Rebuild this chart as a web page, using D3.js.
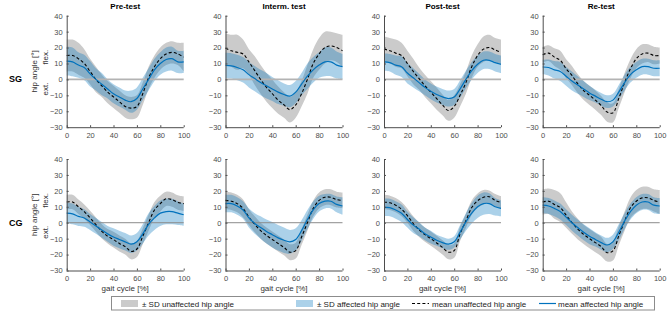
<!DOCTYPE html>
<html>
<head>
<meta charset="utf-8">
<title>Hip angle over gait cycle</title>
<style>
  body { margin: 0; background: #fff; }
  svg { font-family: 'Liberation Sans', Arial, sans-serif; }
  .tick text { font-size: 7.5px; fill: #4d4d4d; }
  .tick line { stroke: #4d4d4d; }
  .domain { stroke: #4d4d4d; }
  .ttl { font-size: 8px; font-weight: bold; fill: #000; }
  .grp { font-size: 9px; font-weight: bold; fill: #000; }
  .lab { font-size: 8px; fill: #333; }
  .leg { font-size: 8px; fill: #222; }
</style>
</head>
<body>
<svg width="669" height="313"></svg>
<script src="https://d3js.org/d3.v7.min.js"></script>
<script>

// gait cycle sample points (%)
let pct = [0,5,10,15,20,25,30,35,40,45,50,55,60,65,70,75,80,85,90,95,100];

let groups = ["SG", "CG"];
let sessions = ["Pre-test", "Interm. test", "Post-test", "Re-test"];
let yTicks = [-30,-20,-10,0,10,20,30,40];
let xTicks = [0,20,40,60,80,100];

// ---- SG ----
let sgPreUnMean = [15,15,13,10,5,0,-4,-8,-11,-14,-17,-18,-17,-9,1,8,13,16,17,16,14];
let sgPreUnSd   = [10,10,10,9,8,8,7,7,7,7,7,7,7,7,7,7,7,7,7,7,9];
let sgPreAfMean = [11.5,11,9,7.5,3.5,0,-3,-6,-9,-11,-13,-14,-12,-6,0,6,10,12.5,13,11,11];
let sgPreAfSd   = [9,9,8,8,8,7,7,6,6,6,6,7,7,7,7,7,7,7.5,7.5,7,7];

let sgIntUnMean = [19.5,18,17,16,11,5.5,0,-5,-9,-13,-16,-19,-16,-9,0,10,16,20,21,20,18];
let sgIntUnSd   = [9.5,10,11,9,8,9,9,9,9,8.5,8,8,8,8,9,9,10,10,9,9,10];
let sgIntAfMean = [8.8,8.5,7.5,6,3,0.5,-2,-4,-6,-8,-9.5,-10.5,-8,-3,2,6,9,11,11,9,8];
let sgIntAfSd   = [8,8,8,8,8,8,8,8,7.5,7.5,7,7,7,7,8,8,8,9,9,8.5,8];

let sgPostUnMean = [19,18,16.5,15,10,5,0.5,-4,-8,-12,-16,-19.5,-17,-10,-2,8,15,19,20,18.5,17];
let sgPostUnSd   = [8,8,8.5,8,8,8,7,7,7,7,6.5,6.5,7,7,7,7,7,8,8,7.5,8];
let sgPostAfMean = [11,10.5,9,8,4,1,-2,-5,-7.5,-9.5,-11,-12,-11,-6,0,5.5,9.5,12,12,10.5,9.5];
let sgPostAfSd   = [5.5,5.5,6,6.5,6.5,6,5.5,5,5,5,5,5,5,5.5,5.5,5.5,5.5,5.5,5.5,5.5,5.5];

let sgReUnMean = [15.5,16.5,14,12,6.7,2.5,-2.7,-7,-10,-13,-16.4,-20.5,-21,-12,-2,6.7,13,16,16.5,15,15];
let sgReUnSd   = [5,5,5.5,6,6,6,6,6,6,6,6,6,6,6,6,6,6,6,5.5,5.5,5];
let sgReAfMean = [7.8,7.5,6,5,2,-1,-3.5,-6,-8.5,-10.5,-12.5,-14,-13,-8,-2,3,6,8,8,7,7];
let sgReAfSd   = [4.5,5,5.5,6,6,6,5.5,5,4.5,4,4,4,4,4.5,5,5,5,5,5,5,5];

// ---- CG ----
let cgPreUnMean = [13,13,10,7,3,-1.2,-5.4,-8.5,-10.6,-13,-15,-18,-16.5,-8.5,0,8,12,15,14.5,12.7,12];
let cgPreUnSd   = [4.5,4.5,4.5,4.5,4.5,4.5,4.5,4.5,5,5,5,5,5,5,5,5,5,4.5,4.5,4.5,4.5];
let cgPreAfMean = [6,5.5,4,3,0.5,-2,-4.5,-7,-9,-10.5,-12,-13.5,-12,-7,-1,3,6,7,7,6,5];
let cgPreAfSd   = [6.5,6.5,6,5.5,5,5,5,5,5.5,5.5,5.5,5.5,5.5,6,7,7.5,8,8,8,7.5,7];

let cgIntUnMean = [14,13.5,12,9,3.5,-1,-5,-8,-10.5,-13,-15.5,-18.5,-17.5,-9,0,9,14,16,16,14.5,14];
let cgIntUnSd   = [5.5,5.5,5.5,5.5,5,5,5,5,5,5,5,5,5,5,5,5,5,5,5,5,5];
let cgIntAfMean = [12,12,10.5,8,3,-0.5,-3,-5.5,-7.5,-9.5,-11,-12,-10.5,-5,2,8,12,13.5,13.5,11.5,10.5];
let cgIntAfSd   = [5.5,5.5,5.5,5.5,6,6.5,7,7.5,8,8,8,7.5,7,6.5,6,5.5,5,4.5,4.5,5,5.5];

let cgPostUnMean = [13,12.5,11,8.5,4.5,-0.5,-4.5,-7.5,-10,-12.7,-15.5,-18.5,-17.5,-7,1.2,9.5,13.8,16,16.3,14,12.7];
let cgPostUnSd   = [4.5,4.5,4.5,4.5,4.5,4.5,4.5,4.5,4.5,4.5,4.5,4.5,4.5,4.5,4.5,4.5,4.5,4.5,4,4,4];
let cgPostAfMean = [9.6,9.5,8,6,2,-1.5,-4,-7,-9,-11,-12.5,-13.5,-12,-6,0.5,6,10,12,12,10,9];
let cgPostAfSd   = [5.5,5.5,5.5,5.5,5,5,4.5,4,4,3.5,3.5,3.5,3.5,4.5,5.5,6.5,7,7,6.5,5.5,5];

let cgReUnMean = [13,13.5,11.5,9.5,4.8,0,-4,-7.3,-10,-12.5,-15,-18.8,-17.7,-8.3,1,9.4,13.5,15.6,15.6,14,13];
let cgReUnSd   = [8,8,9,9,8,7,6.5,6,6,6,6,5.5,6,6,6,6.5,7,7,7,7,7.5];
let cgReAfMean = [11,10.5,9,7,3.5,0,-3,-6,-8.5,-10.5,-12.5,-14,-12,-6,1,7,11,13,13,11,10.5];
let cgReAfSd   = [5,5,5,5,5,5,5,5,5,4.5,4.5,4.5,4.5,5,5,5,5,5,5,5,5];

let panels = [
  [[sgPreUnMean, sgPreUnSd, sgPreAfMean, sgPreAfSd],
   [sgIntUnMean, sgIntUnSd, sgIntAfMean, sgIntAfSd],
   [sgPostUnMean, sgPostUnSd, sgPostAfMean, sgPostAfSd],
   [sgReUnMean, sgReUnSd, sgReAfMean, sgReAfSd]],
  [[cgPreUnMean, cgPreUnSd, cgPreAfMean, cgPreAfSd],
   [cgIntUnMean, cgIntUnSd, cgIntAfMean, cgIntAfSd],
   [cgPostUnMean, cgPostUnSd, cgPostAfMean, cgPostAfSd],
   [cgReUnMean, cgReUnSd, cgReAfMean, cgReAfSd]]
];

let legendLabels = ["± SD unaffected hip angle", "± SD affected hip angle",
                    "mean unaffected hip angle", "mean affected hip angle"];

let grayFill = "#cbcbcb";
let blueFill = "#0072bd";
let blueLine = "#0072bd";

let svg = d3.select("svg");

let colLeft = [66.7, 225.5, 384, 542.7];
let rowTop = [15.7, 159];
let pw = 117, ph = 111.5;

panels.forEach((row, r) => {
  row.forEach((p, c) => {
    let [unM, unS, afM, afS] = p;
    let g = svg.append("g").attr("transform", `translate(${colLeft[c]},${rowTop[r]})`);

    let x = d3.scaleLinear().domain([0, 100]).range([0, pw]);
    let y = d3.scaleLinear().domain([-30, 40]).range([ph, 0]);

    let band = (m, s) => d3.area()
      .curve(d3.curveCatmullRom)
      .x((d, i) => x(pct[i]))
      .y0((d, i) => y(m[i] - s[i]))
      .y1((d, i) => y(m[i] + s[i]))(m);
    let line = d3.line()
      .curve(d3.curveCatmullRom)
      .x((d, i) => x(pct[i]))
      .y(d => y(d));

    g.append("path").attr("d", band(unM, unS)).attr("fill", grayFill);
    g.append("path").attr("d", band(afM, afS)).attr("fill", blueFill).attr("fill-opacity", 0.33);

    // zero reference line
    g.append("line")
      .attr("x1", x(0)).attr("x2", x(100))
      .attr("y1", y(0)).attr("y2", y(0))
      .attr("stroke", r == 0 ? "#b3b3b3" : "#8c8c8c")
      .attr("stroke-width", r == 0 ? 1.6 : 1);

    g.append("path").attr("d", line(unM)).attr("fill", "none")
      .attr("stroke", "#000").attr("stroke-width", 1.1).attr("stroke-dasharray", "3,2.2");
    g.append("path").attr("d", line(afM)).attr("fill", "none")
      .attr("stroke", blueLine).attr("stroke-width", 1.2);

    g.append("g")
      .call(d3.axisLeft(y).tickValues(yTicks).tickSize(-2).tickPadding(4))
      .call(a => a.select(".domain").attr("d", `M0.5,${ph}V0`));
    g.append("g")
      .attr("transform", `translate(0,${ph})`)
      .call(d3.axisBottom(x).tickValues(xTicks).tickSize(-2).tickPadding(5))
      .call(a => a.select(".domain").attr("d", `M0,0.5H${pw}`));

    if (r == 0) {
      g.append("text").attr("class", "ttl")
        .attr("x", pw / 2).attr("y", -6.5).attr("text-anchor", "middle")
        .text(sessions[c]);
    } else {
      g.append("text").attr("class", "lab")
        .attr("x", pw / 2).attr("y", ph + 20).attr("text-anchor", "middle")
        .text("gait cycle [%]");
    }

    if (c == 0) {
      g.append("text").attr("class", "lab")
        .attr("transform", `translate(-30,${y(5)}) rotate(-90)`)
        .attr("text-anchor", "middle").text("hip angle [°]");
      g.append("text").attr("class", "lab")
        .attr("transform", `translate(-19,${y(14)}) rotate(-90)`)
        .attr("text-anchor", "middle").text("flex.");
      g.append("text").attr("class", "lab")
        .attr("transform", `translate(-19,${y(-6)}) rotate(-90)`)
        .attr("text-anchor", "middle").text("ext.");
      svg.append("text").attr("class", "grp")
        .attr("x", 9).attr("y", rowTop[r] + y(0) + 3)
        .text(groups[r]);
    }
  });
});

// legend
let leg = svg.append("g");
leg.append("rect").attr("x", 111.5).attr("y", 296.5).attr("width", 543).attr("height", 13.5)
  .attr("fill", "#fff").attr("stroke", "#8c8c8c").attr("stroke-width", 1);

let ly = 303.5;
leg.append("rect").attr("x", 121).attr("y", ly - 3.5).attr("width", 17).attr("height", 7).attr("fill", grayFill);
leg.append("rect").attr("x", 296).attr("y", ly - 3.5).attr("width", 17).attr("height", 7)
  .attr("fill", blueFill).attr("fill-opacity", 0.33);
leg.append("line").attr("x1", 412).attr("x2", 429).attr("y1", ly).attr("y2", ly)
  .attr("stroke", "#000").attr("stroke-width", 1.1).attr("stroke-dasharray", "3,2.2");
leg.append("line").attr("x1", 539).attr("x2", 556).attr("y1", ly).attr("y2", ly)
  .attr("stroke", blueLine).attr("stroke-width", 1.2);

let legX = [142, 317, 432, 558];
legendLabels.forEach((t, i) => {
  leg.append("text").attr("class", "leg").attr("x", legX[i]).attr("y", ly + 3).text(t);
});

</script>
</body>
</html>
